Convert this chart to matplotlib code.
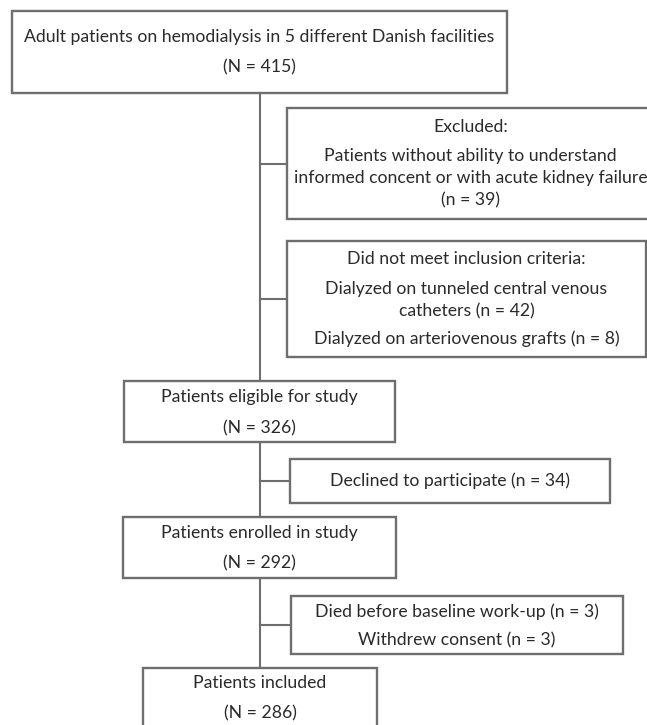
import matplotlib.pyplot as plt
from matplotlib.patches import Rectangle

# texts of the flow chart
main_steps = [
    ["Adult patients on hemodialysis in 5 different Danish facilities", "(N = 415)"],
    ["Patients eligible for study", "(N = 326)"],
    ["Patients enrolled in study", "(N = 292)"],
    ["Patients included", "(N = 286)"],
]
side_steps = [
    ["Excluded:", "Patients without ability to understand",
     "informed concent or with acute kidney failure", "(n = 39)"],
    ["Did not meet inclusion criteria:", "Dialyzed on tunneled central venous",
     "catheters (n = 42)", "Dialyzed on arteriovenous grafts (n = 8)"],
    ["Declined to participate (n = 34)"],
    ["Died before baseline work-up (n = 3)", "Withdrew consent (n = 3)"],
]

# layout in pixels (x0, y0, x1, y1) and line positions
main_boxes = [(12, 11, 507, 93), (124, 381, 395, 442), (123, 517, 396, 578), (143, 668, 377, 745)]
main_lines = [[37, 67], [397, 428], [533, 563], [683, 713]]
side_boxes = [(287, 108, 654, 219), (287, 241, 646, 357), (290, 459, 610, 503), (291, 596, 623, 654)]
side_lines = [[127, 156, 178, 200], [259, 289, 311, 339], [481], [612, 640]]
connect_y = [164, 299, 481, 625]
stem_x = 260

line_col = "#6e6e6e"
text_col = "#2a2a2a"
fs = 12.7

plt.rcParams['font.family'] = ['Lato', 'DejaVu Sans']

fig = plt.figure(figsize=(6.47, 7.25), dpi=100)
ax = fig.add_axes([0, 0, 1, 1])
ax.set_xlim(0, 647)
ax.set_ylim(725, 0)
ax.axis("off")

ax.plot([stem_x, stem_x], [main_boxes[0][3], main_boxes[3][1]], color=line_col, lw=1.5, zorder=1)
for (x0, y0, x1, y1), y in zip(side_boxes, connect_y):
    ax.plot([stem_x, x0], [y, y], color=line_col, lw=1.5, zorder=1)

for boxes, lines, texts in [(main_boxes, main_lines, main_steps), (side_boxes, side_lines, side_steps)]:
    for (x0, y0, x1, y1), ys, txt in zip(boxes, lines, texts):
        ax.add_patch(Rectangle((x0, y0), x1 - x0, y1 - y0, facecolor="white",
                               edgecolor=line_col, lw=1.7, zorder=2))
        for y, t in zip(ys, txt):
            ax.text((x0 + x1) / 2, y, t, ha="center", va="center",
                    fontsize=fs, color=text_col, zorder=3)

fig.savefig("out.png", dpi=100)
